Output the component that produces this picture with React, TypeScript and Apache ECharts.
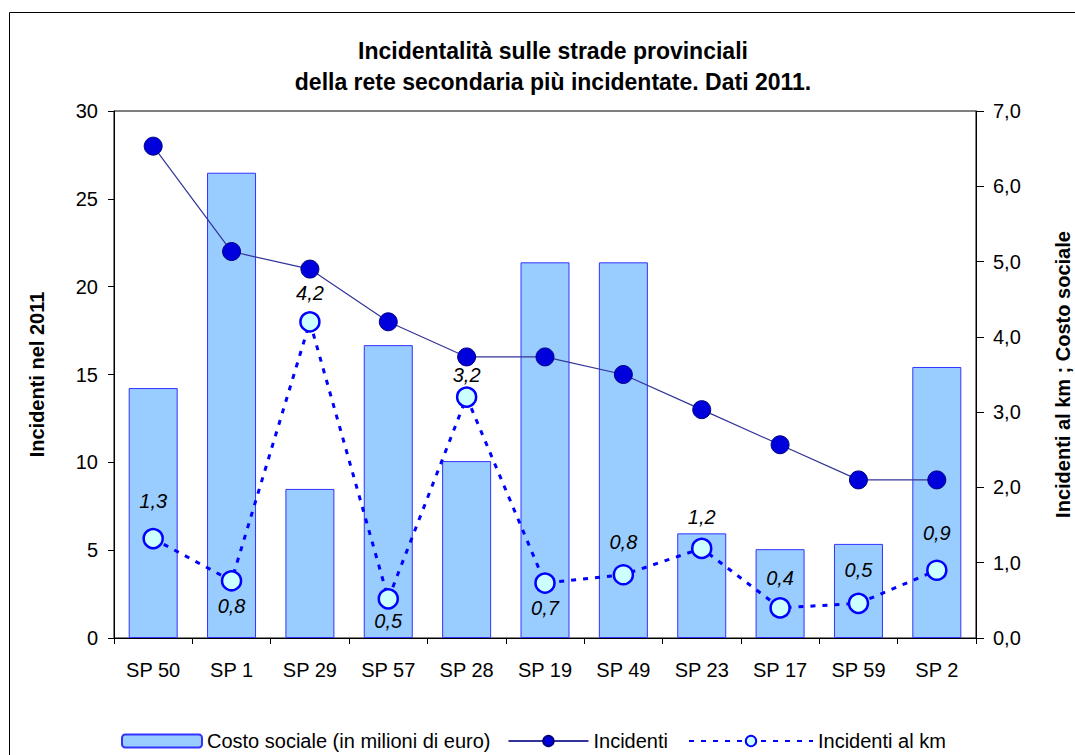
import React, { useEffect, useRef } from "react";
import * as echarts from "echarts";

const categories = ["SP 50", "SP 1", "SP 29", "SP 57", "SP 28", "SP 19", "SP 49", "SP 23", "SP 17", "SP 59", "SP 2"];
const costoSociale = [3.32, 6.18, 1.98, 3.89, 2.35, 4.99, 4.99, 1.39, 1.18, 1.25, 3.6];
const incidenti = [28, 22, 21, 18, 16, 16, 15, 13, 11, 9, 9];
const incidentiKm = [1.32, 0.76, 4.2, 0.52, 3.2, 0.73, 0.84, 1.19, 0.4, 0.46, 0.9];

// label placement (style): which labels sit below their point, and their gap in px
const kmLabelBelow = [false, true, false, true, false, true, false, false, false, false, false];
const kmLabelGap = [17, 4, 8, 1, 1, 4, 12, 11, 9, 13, 16];

const FONT = "'Liberation Sans', Arial, sans-serif";
const fmt1 = (v: number) => v.toFixed(1).replace(".", ",");

const NAME_BAR = "Costo sociale (in milioni di euro)";
const NAME_INC = "Incidenti";
const NAME_KM = "Incidenti al km";

export default function App() {
  const ref = useRef<HTMLDivElement>(null);
  useEffect(() => {
    if (!ref.current) return;
    const chart = echarts.init(ref.current, null, { renderer: "svg" });
    const legendText = { fontFamily: FONT, fontSize: 20, lineHeight: 20, color: "#000" };
    chart.setOption({
      animation: false,
      backgroundColor: "#ffffff",
      textStyle: { fontFamily: FONT },
      title: {
        text: "Incidentalità sulle strade provinciali\ndella rete secondaria più incidentate. Dati 2011.",
        left: 548,
        textAlign: "center",
        top: 30,
        textStyle: { fontFamily: FONT, fontSize: 23, fontWeight: "bold", color: "#000", lineHeight: 31 },
      },
      graphic: [
        {
          type: "rect",
          shape: { x: 9.5, y: 12.5, width: 1200, height: 900 },
          style: { fill: "none", stroke: "#000", lineWidth: 1 },
          silent: true,
        },
      ],
      grid: {
        left: 114,
        right: 99,
        top: 111,
        bottom: 117,
        containLabel: false,
        outerBoundsMode: "none",
        show: true,
        borderColor: "#000",
        borderWidth: 1,
        backgroundColor: "transparent",
      },
      legend: [
        {
          left: 121,
          top: 731,
          itemWidth: 80,
          itemHeight: 13,
          itemGap: 17,
          padding: 0,
          textStyle: legendText,
          data: [NAME_BAR, NAME_INC],
        },
        {
          left: 688,
          top: 731,
          itemWidth: 124,
          itemHeight: 13,
          padding: 0,
          textStyle: legendText,
          data: [NAME_KM],
        },
      ],
      xAxis: {
        type: "category",
        data: categories,
        boundaryGap: true,
        axisLine: { lineStyle: { color: "#000", width: 1 } },
        axisTick: { show: true, alignWithLabel: false, length: 6, lineStyle: { color: "#000" } },
        axisLabel: { fontFamily: FONT, fontSize: 20, color: "#000", margin: 22 },
        splitLine: { show: false },
      },
      yAxis: [
        {
          type: "value",
          min: 0,
          max: 30,
          interval: 5,
          name: "Incidenti nel 2011",
          nameLocation: "middle",
          nameGap: 67,
          nameTextStyle: { fontFamily: FONT, fontSize: 20, fontWeight: "bold", color: "#000" },
          axisLine: { show: true, lineStyle: { color: "#000" } },
          axisTick: { show: true, length: 6, lineStyle: { color: "#000" } },
          axisLabel: { fontFamily: FONT, fontSize: 20, color: "#000", margin: 16 },
          splitLine: { show: false },
        },
        {
          type: "value",
          min: 0,
          max: 7,
          interval: 1,
          position: "right",
          name: "Incidenti al km ; Costo sociale",
          nameLocation: "middle",
          nameGap: 77,
          nameTextStyle: { fontFamily: FONT, fontSize: 20, fontWeight: "bold", color: "#000" },
          axisLine: { show: true, lineStyle: { color: "#000" } },
          axisTick: { show: true, length: 8, lineStyle: { color: "#000" } },
          axisLabel: { fontFamily: FONT, fontSize: 20, color: "#000", margin: 17, formatter: (v: number) => fmt1(v) },
          splitLine: { show: false },
        },
      ],
      series: [
        {
          name: NAME_BAR,
          type: "bar",
          yAxisIndex: 1,
          data: costoSociale,
          barWidth: 49,
          itemStyle: { color: "#99ccff", borderColor: "#3333ff", borderWidth: 1 },
          z: 1,
        },
        {
          name: NAME_INC,
          type: "line",
          yAxisIndex: 0,
          data: incidenti,
          symbol: "circle",
          symbolSize: 18,
          lineStyle: { color: "#333399", width: 1.2 },
          itemStyle: { color: "#0000dd", borderColor: "#000080", borderWidth: 1 },
          z: 3,
        },
        {
          name: NAME_KM,
          type: "line",
          yAxisIndex: 1,
          data: incidentiKm.map((v, i) => ({
            value: v,
            label: { position: kmLabelBelow[i] ? "bottom" : "top", distance: kmLabelGap[i] },
          })),
          symbol: "circle",
          symbolSize: 19,
          lineStyle: { color: "#0000ff", width: 3, type: [5, 7] },
          itemStyle: { color: "#ccffff", borderColor: "#0000ff", borderWidth: 2.5 },
          label: {
            show: true,
            fontFamily: FONT,
            fontSize: 20,
            fontStyle: "italic",
            color: "#000",
            formatter: (p: any) => fmt1(p.value),
          },
          z: 4,
        },
      ],
    });
    return () => chart.dispose();
  }, []);
  return <div ref={ref} style={{ position: "fixed", left: 0, top: 0, width: 1075, height: 755 }} />;
}
